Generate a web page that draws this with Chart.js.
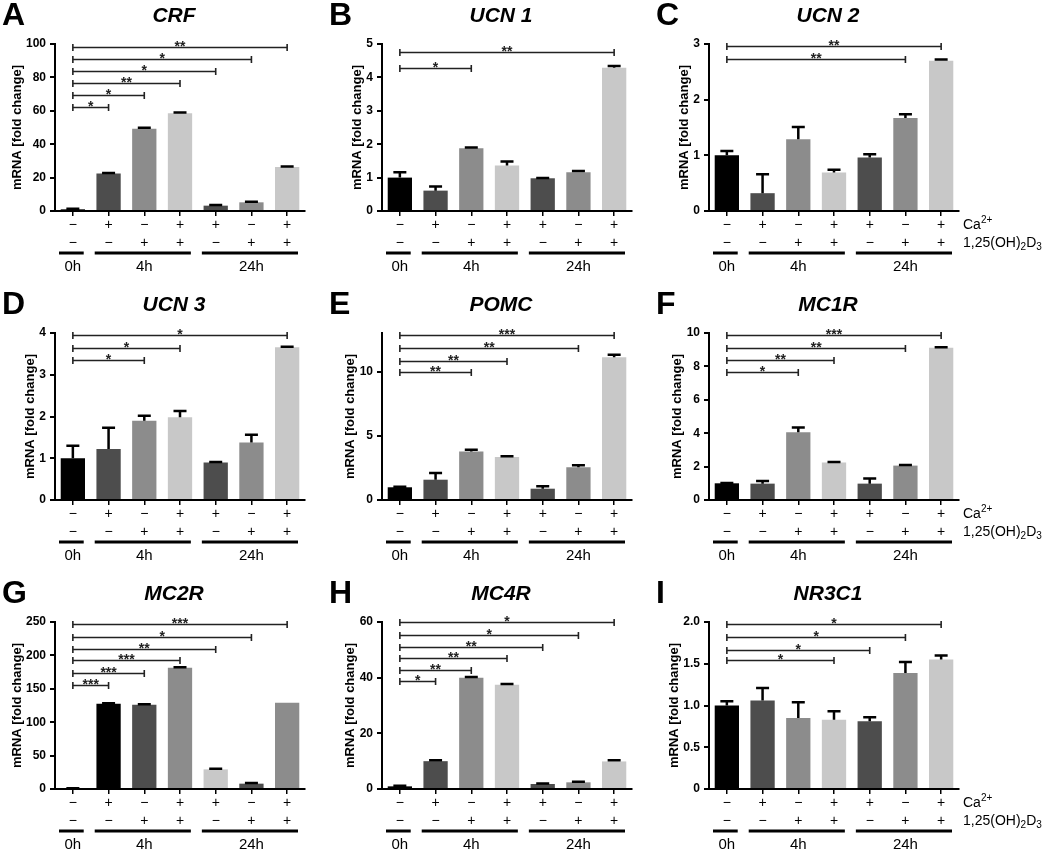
<!DOCTYPE html>
<html>
<head>
<meta charset="utf-8">
<script src="https://cdn.jsdelivr.net/npm/chart.js@4"></script>
<style>
  body { margin: 0; background: #fff; }
  #wrap { position: relative; width: 1050px; height: 856px; overflow: hidden; }
  #wrap canvas { position: absolute; }
</style>
</head>
<body>
<div id="wrap"></div>
<script>
// shared x categories (treatment rows under each panel)
const caRow = ['−', '+', '−', '+', '+', '−', '+'];
const vdRow = ['−', '−', '+', '+', '−', '+', '+'];
const timeLabels = ['0h', '4h', '24h'];
const timeFrom = [0, 1, 4];
const timeTo = [0, 3, 6];

// A - CRF
const crfMean = [1.0, 22.4, 49.3, 58.5, 3.2, 5.2, 26.3];
const crfSem = [0.3, 0.4, 0.5, 0.5, 0.4, 0.4, 0.4];
const crfSigTo = [1, 2, 3, 4, 5, 6];
const crfSigY = [62, 69.5, 76.8, 84, 91, 98];
const crfStars = ['*', '*', '**', '*', '*', '**'];
const crfTicks = [0, 20, 40, 60, 80, 100];

// B - UCN 1
const ucn1Mean = [1.0, 0.61, 1.88, 1.36, 0.98, 1.16, 4.29];
const ucn1Sem = [0.16, 0.12, 0.02, 0.12, 0.01, 0.04, 0.05];
const ucn1SigTo = [2, 6];
const ucn1SigY = [4.29, 4.75];
const ucn1Stars = ['*', '**'];
const ucn1Ticks = [0, 1, 2, 3, 4, 5];

// C - UCN 2
const ucn2Mean = [1.0, 0.32, 1.29, 0.69, 0.96, 1.67, 2.70];
const ucn2Sem = [0.08, 0.34, 0.22, 0.05, 0.06, 0.07, 0.02];
const ucn2SigTo = [5, 6];
const ucn2SigY = [2.73, 2.97];
const ucn2Stars = ['**', '**'];
const ucn2Ticks = [0, 1, 2, 3];

// D - UCN 3
const ucn3Mean = [1.0, 1.22, 1.90, 1.98, 0.90, 1.38, 3.66];
const ucn3Sem = [0.30, 0.51, 0.12, 0.15, 0.01, 0.18, 0.01];
const ucn3SigTo = [2, 3, 6];
const ucn3SigY = [3.36, 3.65, 3.96];
const ucn3Stars = ['*', '*', '*'];
const ucn3Ticks = [0, 1, 2, 3, 4];

// E - POMC
const pomcMean = [0.99, 1.58, 3.77, 3.35, 0.88, 2.55, 11.12];
const pomcSem = [0.05, 0.52, 0.15, 0.05, 0.20, 0.15, 0.18];
const pomcSigTo = [2, 3, 5, 6];
const pomcSigY = [9.95, 10.83, 11.84, 12.83];
const pomcStars = ['**', '**', '**', '***'];
const pomcTicks = [0, 5, 10];

// F - MC1R
const mc1rMean = [1.0, 0.98, 4.06, 2.24, 0.98, 2.06, 9.12];
const mc1rSem = [0.02, 0.16, 0.28, 0.03, 0.30, 0.03, 0.02];
const mc1rSigTo = [2, 3, 5, 6];
const mc1rSigY = [7.68, 8.4, 9.12, 9.9];
const mc1rStars = ['*', '**', '**', '***'];
const mc1rTicks = [0, 2, 4, 6, 8, 10];

// G - MC2R
const mc2rMean = [1.0, 127.7, 126.2, 181.6, 29.4, 8.0, 129.2];
const mc2rSem = [0.3, 0.5, 0.6, 0.6, 0.8, 0.8, 0];
const mc2rSigTo = [1, 2, 3, 4, 5, 6];
const mc2rSigY = [155.7, 174.2, 192.6, 210, 228, 246.5];
const mc2rStars = ['***', '***', '***', '**', '*', '***'];
const mc2rTicks = [0, 50, 100, 150, 200, 250];

// H - MC4R
const mc4rMean = [0.95, 10.0, 40.0, 37.5, 1.8, 2.4, 9.9];
const mc4rSem = [0.2, 0.3, 0.2, 0.2, 0.2, 0.2, 0.4];
const mc4rSigTo = [1, 2, 3, 4, 5, 6];
const mc4rSigY = [38.8, 42.9, 46.9, 51, 55.5, 60];
const mc4rStars = ['*', '**', '**', '**', '*', '*'];
const mc4rTicks = [0, 20, 40, 60];

// I - NR3C1
const nr3c1Mean = [1.0, 1.06, 0.85, 0.83, 0.81, 1.39, 1.55];
const nr3c1Sem = [0.05, 0.15, 0.19, 0.10, 0.05, 0.13, 0.05];
const nr3c1SigTo = [3, 4, 5, 6];
const nr3c1SigY = [1.54, 1.67, 1.82, 1.98];
const nr3c1Stars = ['*', '*', '*', '*'];
const nr3c1Ticks = [0, 0.5, 1.0, 1.5, 2.0];
const nr3c1TickLabels = ['0', '0.5', '1.0', '1.5', '2.0'];

const axisMax = [100, 5, 3, 4, 13, 10, 250, 60, 2];

/* styling / layout */
const FONT = "'Liberation Sans', Arial, Helvetica, sans-serif";
const GREYS = ['#000000', '#4d4d4d', '#8c8c8c', '#c8c8c8', '#4d4d4d', '#8c8c8c', '#c8c8c8'];
const GREYS_G = ['#000000', '#000000', '#4d4d4d', '#8c8c8c', '#c8c8c8', '#4d4d4d', '#8c8c8c'];
const colX = [0, 327, 654], colW = [327, 327, 396];
const rowY = [0, 289, 578], rowH = [289, 289, 278];
const AREA = { left: 55, right: 305, top: 44, bottom: 211 };

const panels = [
  { letter: 'A', gene: 'CRF', mean: crfMean, sem: crfSem, sigTo: crfSigTo, sigY: crfSigY, stars: crfStars, ticks: crfTicks },
  { letter: 'B', gene: 'UCN 1', mean: ucn1Mean, sem: ucn1Sem, sigTo: ucn1SigTo, sigY: ucn1SigY, stars: ucn1Stars, ticks: ucn1Ticks },
  { letter: 'C', gene: 'UCN 2', mean: ucn2Mean, sem: ucn2Sem, sigTo: ucn2SigTo, sigY: ucn2SigY, stars: ucn2Stars, ticks: ucn2Ticks },
  { letter: 'D', gene: 'UCN 3', mean: ucn3Mean, sem: ucn3Sem, sigTo: ucn3SigTo, sigY: ucn3SigY, stars: ucn3Stars, ticks: ucn3Ticks },
  { letter: 'E', gene: 'POMC', mean: pomcMean, sem: pomcSem, sigTo: pomcSigTo, sigY: pomcSigY, stars: pomcStars, ticks: pomcTicks },
  { letter: 'F', gene: 'MC1R', mean: mc1rMean, sem: mc1rSem, sigTo: mc1rSigTo, sigY: mc1rSigY, stars: mc1rStars, ticks: mc1rTicks },
  { letter: 'G', gene: 'MC2R', mean: mc2rMean, sem: mc2rSem, sigTo: mc2rSigTo, sigY: mc2rSigY, stars: mc2rStars, ticks: mc2rTicks },
  { letter: 'H', gene: 'MC4R', mean: mc4rMean, sem: mc4rSem, sigTo: mc4rSigTo, sigY: mc4rSigY, stars: mc4rStars, ticks: mc4rTicks },
  { letter: 'I', gene: 'NR3C1', mean: nr3c1Mean, sem: nr3c1Sem, sigTo: nr3c1SigTo, sigY: nr3c1SigY, stars: nr3c1Stars, ticks: nr3c1Ticks, tickLabels: nr3c1TickLabels }
];

function tickLabel(p, v, i) {
  return p.tickLabels ? p.tickLabels[i] : String(v);
}

// draw text with a raised/lowered small part, e.g. Ca2+ or (OH)2D3
function richText(ctx, parts, x, y) {
  parts.forEach(([txt, shift]) => {
    ctx.font = (shift ? '10px ' : '14px ') + FONT;
    ctx.fillText(txt, x, y + shift);
    x += ctx.measureText(txt).width;
  });
}

// error bars, brackets, treatment rows, titles
function makeDecor(p, n) {
  return {
    id: 'decor' + n,
    afterDraw(chart) {
      const { ctx, chartArea: a, scales: { y } } = chart;
      const bars = chart.getDatasetMeta(0).data;
      ctx.save();
      ctx.fillStyle = '#000';

      // SEM (upper only)
      ctx.strokeStyle = '#000';
      ctx.lineWidth = 2.5;
      p.mean.forEach((m, i) => {
        if (!p.sem[i]) return;
        const bx = bars[i].x;
        const y0 = y.getPixelForValue(m), y1 = y.getPixelForValue(m + p.sem[i]);
        ctx.beginPath();
        ctx.moveTo(bx, y0); ctx.lineTo(bx, y1);
        ctx.moveTo(bx - 6.5, y1); ctx.lineTo(bx + 6.5, y1);
        ctx.stroke();
      });

      // significance brackets vs 0h
      ctx.strokeStyle = '#222';
      ctx.fillStyle = '#222';
      ctx.lineWidth = 1.6;
      ctx.font = 'bold 14px ' + FONT;
      ctx.textAlign = 'center';
      ctx.textBaseline = 'alphabetic';
      p.sigTo.forEach((t, k) => {
        const x1 = bars[0].x, x2 = bars[t].x;
        const yy = Math.round(y.getPixelForValue(p.sigY[k])) + 0.5;
        ctx.beginPath();
        ctx.moveTo(x1, yy); ctx.lineTo(x2, yy);
        ctx.moveTo(x1, yy - 3.5); ctx.lineTo(x1, yy + 3.5);
        ctx.moveTo(x2, yy - 3.5); ctx.lineTo(x2, yy + 3.5);
        ctx.stroke();
        ctx.fillText(p.stars[k], (x1 + x2) / 2, yy + 3);
      });

      // treatment rows
      ctx.fillStyle = '#000';
      ctx.strokeStyle = '#000';
      ctx.textBaseline = 'middle';
      ctx.font = '14px ' + FONT;
      caRow.forEach((s, i) => ctx.fillText(s, bars[i].x, a.bottom + 14));
      vdRow.forEach((s, i) => ctx.fillText(s, bars[i].x, a.bottom + 32));

      // time groups
      const cw = (a.right - a.left) / caRow.length;
      ctx.lineWidth = 3;
      ctx.font = '15px ' + FONT;
      timeLabels.forEach((lab, g) => {
        const x1 = a.left + timeFrom[g] * cw + 4;
        const x2 = a.left + (timeTo[g] + 1) * cw - 7;
        ctx.beginPath();
        ctx.moveTo(x1, a.bottom + 42); ctx.lineTo(x2, a.bottom + 42);
        ctx.stroke();
        const mid = Math.round((timeFrom[g] + timeTo[g]) / 2);
        ctx.fillText(lab, bars[mid].x, a.bottom + 56);
      });

      // row labels at the right of the last column
      if (n % 3 === 2) {
        ctx.textAlign = 'left';
        const lx = a.right + 4;
        richText(ctx, [['Ca', 0], ['2+', -5]], lx, a.bottom + 14);
        richText(ctx, [['1,25(OH)', 0], ['2', 4], ['D', 0], ['3', 4]], lx, a.bottom + 32);
      }

      // y axis title
      ctx.font = 'bold 12px ' + FONT;
      const maxW = Math.max(...p.ticks.map((v, i) => ctx.measureText(tickLabel(p, v, i)).width));
      const tx = a.left - 9 - maxW - 9;
      ctx.save();
      ctx.translate(tx, (a.top + a.bottom) / 2);
      ctx.rotate(-Math.PI / 2);
      ctx.textAlign = 'center';
      ctx.font = 'bold 13px ' + FONT;
      ctx.fillText('mRNA [fold change]', 0, 0);
      ctx.restore();

      // panel letter + gene name
      ctx.textBaseline = 'alphabetic';
      ctx.textAlign = 'left';
      ctx.font = 'bold 32px ' + FONT;
      ctx.fillText(p.letter, 2, 25);
      ctx.textAlign = 'center';
      ctx.font = 'italic bold 21px ' + FONT;
      ctx.fillText(p.gene, 174, 22);
      ctx.restore();
    }
  };
}

const wrap = document.getElementById('wrap');

panels.forEach((p, n) => {
  const col = n % 3, row = Math.floor(n / 3);
  const W = colW[col], H = rowH[row];
  const cv = document.createElement('canvas');
  cv.width = W;
  cv.height = H;
  cv.style.left = colX[col] + 'px';
  cv.style.top = rowY[row] + 'px';
  cv.style.width = W + 'px';
  cv.style.height = H + 'px';
  wrap.appendChild(cv);

  new Chart(cv, {
    type: 'bar',
    data: {
      labels: caRow,
      datasets: [{
        data: p.mean,
        backgroundColor: n === 6 ? GREYS_G : GREYS,
        borderWidth: 0,
        barPercentage: 0.68,
        categoryPercentage: 1
      }]
    },
    options: {
      responsive: false,
      animation: false,
      events: [],
      layout: { padding: { left: 0, top: AREA.top, right: W - AREA.right, bottom: 0 } },
      plugins: { legend: { display: false }, tooltip: { enabled: false } },
      scales: {
        x: {
          z: 1,
          ticks: { display: false },
          grid: { drawOnChartArea: false, offset: false, tickLength: 5, color: '#000', lineWidth: 1.5 },
          border: { display: true, color: '#000', width: 2 },
          afterFit: s => { s.height = H - AREA.bottom; }
        },
        y: {
          z: 1,
          min: 0,
          max: axisMax[n],
          afterBuildTicks: s => { s.ticks = p.ticks.map(v => ({ value: v })); },
          ticks: {
            color: '#000',
            padding: 4,
            font: { family: FONT, size: 12, weight: 'bold' },
            callback: (v, i) => tickLabel(p, v, i)
          },
          grid: { drawOnChartArea: false, tickLength: 5, color: '#000', lineWidth: 2 },
          border: { display: true, color: '#000', width: 2 },
          afterFit: s => { s.width = AREA.left; }
        }
      }
    },
    plugins: [makeDecor(p, n)]
  });
});
</script>
</body>
</html>
